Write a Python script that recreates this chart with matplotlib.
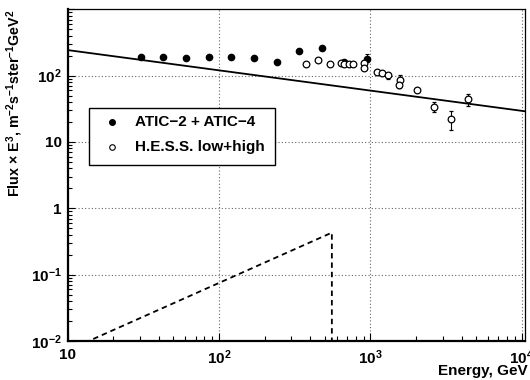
import numpy as np
import matplotlib
matplotlib.use("Agg")
import matplotlib.pyplot as plt
from matplotlib.ticker import LogLocator, FuncFormatter, NullFormatter
from matplotlib.patches import Rectangle
from matplotlib.lines import Line2D

plt.rcParams['font.family'] = ['Liberation Sans', 'DejaVu Sans']
plt.rcParams['font.weight'] = 'bold'
plt.rcParams['font.size'] = 11
plt.rcParams['mathtext.fontset'] = 'custom'
plt.rcParams['mathtext.rm'] = 'Liberation Sans:bold'
plt.rcParams['mathtext.it'] = 'Liberation Sans:bold'
plt.rcParams['mathtext.bf'] = 'Liberation Sans:bold'

# ATIC-2 + ATIC-4 electron spectrum (E^3 * flux)
atic_E = [30.6, 43, 60.7, 85.7, 120.5, 170, 241, 336, 477, 667, 946]
atic_F = [189, 189, 183, 189, 189, 183, 162, 238, 258, 162, 178]
atic_lo = [189, 189, 183, 189, 189, 183, 162, 238, 258, 162, 160]
atic_hi = [189, 189, 183, 189, 189, 183, 162, 238, 258, 162, 210]

# H.E.S.S. low + high energy analyses
hess_E = [377, 449, 542, 641, 673, 719, 764, 903, 913, 1101, 1200, 1314,
          1561, 1553, 2013, 2620, 3410, 4420]
hess_F = [151, 170, 151, 157, 151, 148, 148, 157, 132, 115, 109, 101,
          86, 72.4, 61.6, 34.2, 22.3, 44.7]
hess_lo = [151, 170, 151, 157, 151, 148, 148, 150, 126, 110, 104, 89,
           80, 64.5, 58, 28.2, 15.2, 35]
hess_hi = [151, 170, 151, 157, 151, 148, 148, 166, 138, 120, 114, 111,
           102, 78, 65, 40.6, 29.4, 52.5]

# background power law and the source component with its cutoff
bkg_E = [10, 1.05e4]
bkg_F = [243, 29.0]
src_E = [10, 556, 556]
src_F = [0.0072, 0.43, 0.01]

W, H = 530, 380
fig = plt.figure(figsize=(W / 100, H / 100), dpi=100)
ax = fig.add_axes([67.5 / W, (H - 341) / H, (525.3 - 67.5) / W, (341 - 9.3) / H])
ax.set_xscale('log')
ax.set_yscale('log')
ax.set_xlim(10, 1.052e4)
ax.set_ylim(1e-2, 1e3)

ax.grid(True, which='major', linestyle=(0, (1, 2)), color='0.4', linewidth=0.8)
ax.set_axisbelow(True)

ax.plot(bkg_E, bkg_F, color='black', lw=1.3)
ax.plot(src_E, src_F, color='black', lw=1.3, linestyle=(0, (3, 2.2)))

a_err = [np.array(atic_F) - np.array(atic_lo), np.array(atic_hi) - np.array(atic_F)]
ax.errorbar(atic_E, atic_F, yerr=a_err, fmt='o', color='black', ms=4.5,
            elinewidth=0.8, capsize=1.5, capthick=0.8)
h_err = [np.array(hess_F) - np.array(hess_lo), np.array(hess_hi) - np.array(hess_F)]
ax.errorbar(hess_E, hess_F, yerr=h_err, fmt='o', color='black', mfc='white',
            ms=4.8, mew=0.9, elinewidth=0.8, capsize=1.5, capthick=0.8)


def log_label(v, pos, skip_top=False):
    n = int(round(np.log10(v)))
    if skip_top and n == 3:
        return ''
    if n == 0:
        return '1'
    if n == 1:
        return '10'
    return r'$10^{%d}$' % n


ax.xaxis.set_major_locator(LogLocator(base=10, numticks=10))
ax.xaxis.set_minor_locator(LogLocator(base=10, subs=np.arange(2, 10), numticks=20))
ax.xaxis.set_major_formatter(FuncFormatter(log_label))
ax.xaxis.set_minor_formatter(NullFormatter())
ax.yaxis.set_major_locator(LogLocator(base=10, numticks=10))
ax.yaxis.set_minor_locator(LogLocator(base=10, subs=np.arange(2, 10), numticks=20))
ax.yaxis.set_major_formatter(FuncFormatter(lambda v, p: log_label(v, p, True)))
ax.yaxis.set_minor_formatter(NullFormatter())

ax.tick_params(which='both', direction='in', top=False, right=False, width=0.8)
ax.tick_params(axis='x', which='major', length=6, pad=5, labelsize=11)
ax.tick_params(axis='x', which='minor', length=3.5)
ax.tick_params(axis='y', which='major', length=5, pad=4, labelsize=11)
ax.tick_params(axis='y', which='minor', length=3)

for side in ['left', 'bottom']:
    ax.spines[side].set_linewidth(1.6)
for side in ['top', 'right']:
    ax.spines[side].set_linewidth(0.9)

fig.text(15 / W, 1 - 9.5 / H,
         r'Flux $\times$ E$^{3}$, m$^{-2}$s$^{-1}$ster$^{-1}$GeV$^{2}$',
         rotation=90, ha='center', va='top', fontsize=10.3)
fig.text(528 / W, 2 / H, 'Energy, GeV', ha='right', va='bottom', fontsize=11)

# legend box
fig.add_artist(Rectangle((89 / W, 1 - 165 / H), 186 / W, 57.3 / H,
                         transform=fig.transFigure, facecolor='white',
                         edgecolor='black', lw=1.0))
fig.add_artist(Line2D([111.7 / W], [1 - 121.7 / H], marker='o', ms=4, color='black',
                      transform=fig.transFigure))
fig.add_artist(Line2D([111.7 / W], [1 - 147.3 / H], marker='o', ms=4, color='black',
                      mfc='white', mew=0.8, transform=fig.transFigure))
fig.text(135 / W, 1 - 121.7 / H, 'ATIC\u22122 + ATIC\u22124', ha='left',
         va='center', fontsize=11)
fig.text(135 / W, 1 - 147.3 / H, 'H.E.S.S. low+high', ha='left',
         va='center', fontsize=11)

fig.savefig('out.png', dpi=100)
